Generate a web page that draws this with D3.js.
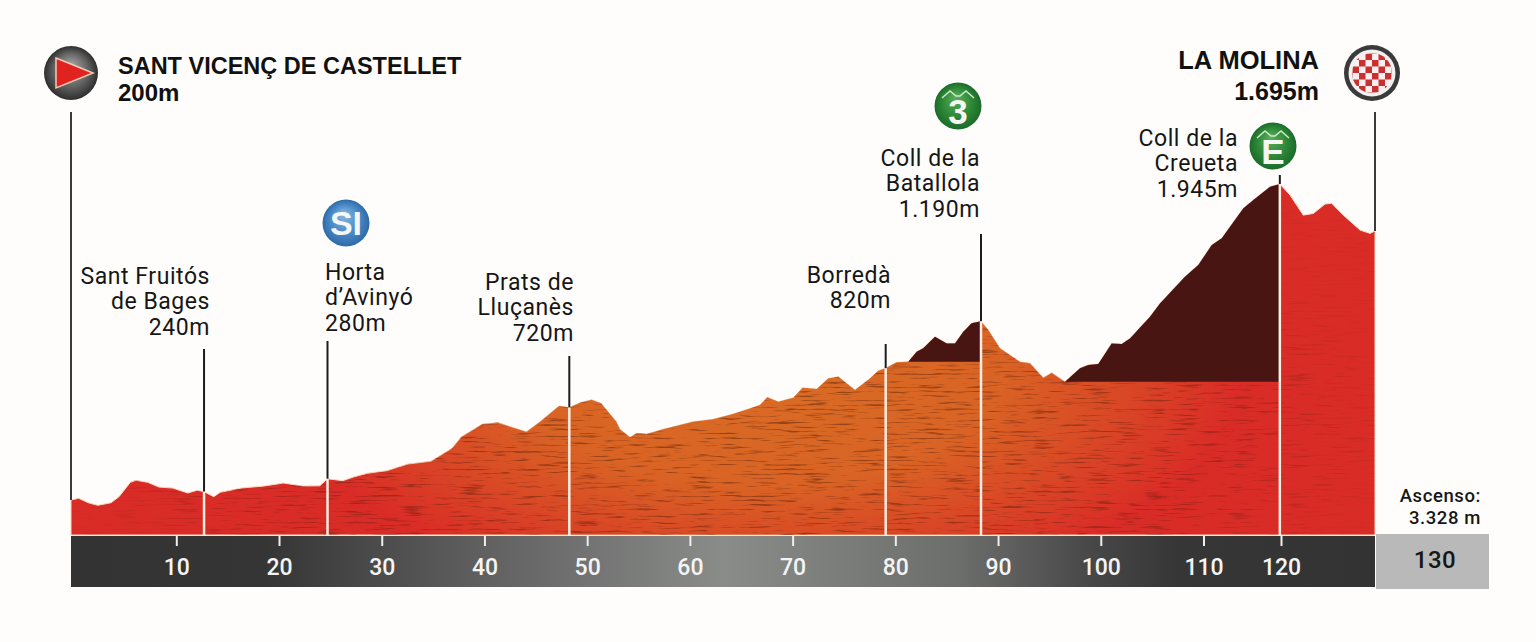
<!DOCTYPE html>
<html>
<head>
<meta charset="utf-8">
<script src="https://cdn.jsdelivr.net/npm/d3@7"></script>
<style>
  body { margin: 0; background: #fefdfb; }
  svg { display: block; }
  .stop { font-family: Roboto, sans-serif; font-size: 23px; letter-spacing: 0.55px; fill: #161616; }
  .title { font-family: "Liberation Sans", sans-serif; font-weight: 700; fill: #111; }
  .axis text { font-family: Roboto, sans-serif; font-size: 23px; font-weight: 500; fill: #f4f4f4; }
  .axis line { stroke: #eee; stroke-width: 2; }
</style>
</head>
<body>
<svg id="chart" width="1536" height="642"></svg>
<script>
const profileKm = [0, 0.73, 1.64, 2.55, 3.8, 4.56, 5.64, 6.17, 7.28, 8.36, 9.64, 11.12, 12.04, 12.7, 13.65, 14.28, 16.33, 18.57, 20.43, 22.3, 23.97, 24.72, 26.21, 27.32, 28.62, 30.49, 32.54, 34.78, 36.82, 37.76, 39.81, 41.3, 44.09, 45.41, 47.26, 48.26, 49.3, 50.42, 51.35, 52.84, 53.19, 54.17, 54.82, 55.8, 57.38, 59.04, 60.3, 62.25, 64.2, 65.85, 66.82, 67.53, 68.61, 70.07, 70.98, 72.34, 73.47, 74.45, 76.07, 77.53, 78.34, 79.06, 80.13, 81.26, 82.08, 82.72, 83.86, 85, 85.81, 86.62, 87.43, 88.34, 89.05, 90.19, 92.14, 93.11, 94.4, 95.22, 96.52, 97.98, 98.78, 99.76, 101.06, 102.04, 102.84, 104.79, 105.76, 108.19, 109.49, 111.06, 112.35, 115.14, 116.43, 118.58, 119.85, 120.96, 122.37, 123.44, 124.68, 125.39, 126.63, 128.4, 129.47, 130];
const profileAlt = [230, 239, 215, 201, 215, 248, 326, 337, 326, 300, 295, 268, 283, 275, 248, 272, 295, 306, 322, 306, 307, 345, 335, 356, 375, 389, 425, 440, 510, 573, 642, 650, 600, 655, 740, 732, 758, 774, 755, 655, 614, 570, 592, 588, 614, 637, 655, 668, 697, 727, 745, 787, 763, 785, 839, 832, 890, 899, 827, 890, 931, 945, 977, 980, 1035, 1053, 1116, 1080, 1080, 1143, 1189, 1200, 1152, 1053, 980, 972, 894, 921, 872, 945, 962, 968, 1080, 1076, 1107, 1224, 1297, 1442, 1505, 1614, 1650, 1813, 1858, 1930, 1945, 1885, 1776, 1785, 1836, 1840, 1776, 1695, 1677, 1690];

const kmTicks = [10, 20, 30, 40, 50, 60, 70, 80, 90, 100, 110, 120];
const totalKm = 130;

const stopKm = [12.7, 24.72, 48.26, 79.06, 88.34, 119.85];
const stopNames = [
  ["Sant Fruitós", "de Bages", "240m"],
  ["Horta", "d’Avinyó", "280m"],
  ["Prats de", "Lluçanès", "720m"],
  ["Borredà", "820m"],
  ["Coll de la", "Batallola", "1.190m"],
  ["Coll de la", "Creueta", "1.945m"]
];
// ramps shaded dark: start km, summit km, altitude of the flat bottom
const climbStart = [81.26, 96.52];
const climbEnd = [88.34, 119.85];
const climbBase = [980, 872];

const startName = "SANT VICENÇ DE CASTELLET";
const startAlt = "200m";
const finishName = "LA MOLINA";
const finishAlt = "1.695m";
const ascentLines = ["Ascenso:", "3.328 m"];

// layout
const baseY = 535, barBottom = 587;
const lineTops = [349, 341, 356, 344, 234, 175];
const labelX = [210, 325, 574, 891, 980, 1238];
const labelY = [284, 280, 290, 283, 166, 146];
const labelAnchor = ["end", "start", "end", "end", "end", "end"];

const s = d3.select("#chart");
const defs = s.append("defs");

const x = d3.scaleLinear().domain([0, 10, 110, 120, 130]).range([71, 176.3, 1203.5, 1281, 1375]);
const y = d3.scaleLinear().domain([40, 1945]).range([baseY, 184]);

const profile = profileKm.map((km, i) => ({ km, alt: profileAlt[i] }));
const area = d3.area().x(d => x(d.km)).y0(baseY).y1(d => y(d.alt));
const areaPath = area(profile);

function altAt(km) {
  const i = d3.bisector(d => d.km).center(profile, km);
  return profile[i].alt;
}

function linGrad(id, stops, attrs) {
  const g = defs.append("linearGradient").attr("id", id).attr("gradientUnits", "userSpaceOnUse");
  Object.keys(attrs).forEach(k => g.attr(k, attrs[k]));
  stops.forEach(st => g.append("stop").attr("offset", st[0]).attr("stop-color", st[1]));
}

function radGrad(id, stops, fx, fy) {
  const g = defs.append("radialGradient").attr("id", id).attr("fx", fx).attr("fy", fy);
  stops.forEach(st => g.append("stop").attr("offset", st[0]).attr("stop-color", st[1]));
}

linGrad("barGrad", [[0, "#333"], [0.15, "#353535"], [0.3, "#5c5c5c"], [0.5, "#8a8c8a"], [0.68, "#6c6e6c"], [0.78, "#484848"], [0.85, "#363636"], [1, "#333"]], { x1: 71, x2: 1375, y1: 0, y2: 0 });
radGrad("startGrad", [[0, "#a8a8a8"], [0.6, "#666"], [1, "#2e2e2e"]], "50%", "35%");
radGrad("greenGrad", [[0, "#5cae5c"], [0.6, "#2f8a38"], [1, "#1b6b2a"]], "45%", "30%");
radGrad("blueGrad", [[0, "#8ab8e0"], [0.6, "#4a8bc8"], [1, "#2f6aa8"]], "45%", "30%");

// orange glow over the red base, strongest around the middle of the stage
const glow = defs.append("radialGradient").attr("id", "glow").attr("gradientUnits", "userSpaceOnUse")
  .attr("cx", 0).attr("cy", 0).attr("r", 1)
  .attr("gradientTransform", "translate(760,370) scale(480,230)");
[[0, 1], [0.5, 0.85], [0.8, 0.35], [1, 0]].forEach(st => {
  glow.append("stop").attr("offset", st[0]).attr("stop-color", "#d96d24").attr("stop-opacity", st[1]);
});

// the dirt only shows where the profile goes orange
const grainMask = defs.append("radialGradient").attr("id", "grainFade").attr("gradientUnits", "userSpaceOnUse")
  .attr("cx", 0).attr("cy", 0).attr("r", 1)
  .attr("gradientTransform", "translate(720,420) scale(680,260)");
[[0, "#fff"], [0.7, "#bbb"], [1, "#222"]].forEach(st => {
  grainMask.append("stop").attr("offset", st[0]).attr("stop-color", st[1]);
});
defs.append("mask").attr("id", "grainMask").attr("maskUnits", "userSpaceOnUse")
  .attr("x", 0).attr("y", 0).attr("width", 1536).attr("height", 642)
  .append("rect").attr("width", 1536).attr("height", 642).attr("fill", "url(#grainFade)");

defs.append("clipPath").attr("id", "profileClip").append("path").attr("d", areaPath);

// streaky dirt texture
const grain = defs.append("filter").attr("id", "grain").attr("x", 0).attr("y", 0).attr("width", 1).attr("height", 1)
  .attr("color-interpolation-filters", "sRGB");
grain.append("feTurbulence").attr("type", "fractalNoise").attr("baseFrequency", "0.035 0.45").attr("numOctaves", 3).attr("seed", 11);
grain.append("feColorMatrix").attr("values", "0 0 0 0 0.3  0 0 0 0 0.1  0 0 0 0 0.03  4.5 0 0 0 -2.55");

s.append("path").attr("d", areaPath).attr("fill", "#da2c27")
  .attr("stroke", "#f8d8c0").attr("stroke-width", 1);
s.append("path").attr("d", areaPath).attr("fill", "url(#glow)");
s.append("g").attr("clip-path", "url(#profileClip)").attr("mask", "url(#grainMask)")
  .append("rect").attr("x", 71).attr("y", 180).attr("width", 1304).attr("height", baseY - 180)
  .attr("filter", "url(#grain)").attr("opacity", 0.5);

climbStart.forEach((from, i) => {
  const pts = profile.filter(d => d.km >= from && d.km <= climbEnd[i]);
  const climbArea = d3.area().x(d => x(d.km)).y0(y(climbBase[i])).y1(d => y(d.alt));
  s.append("path").attr("d", climbArea(pts)).attr("fill", "#481512");
});

// km bar
s.append("rect").attr("x", 71).attr("y", baseY + 1).attr("width", 1304).attr("height", barBottom - baseY - 1).attr("fill", "url(#barGrad)");

const axis = d3.axisBottom(x).tickValues(kmTicks).tickFormat(d3.format("d")).tickSize(10).tickPadding(7);
const axisG = s.append("g").attr("class", "axis").attr("transform", `translate(0,${baseY + 1})`).call(axis);
axisG.select(".domain").remove();
axisG.selectAll("text").attr("dy", "0.95em");

// total distance box
s.append("rect").attr("x", 1376).attr("y", 534).attr("width", 113).attr("height", 55).attr("fill", "#b9b9b9");
s.append("text").attr("class", "stop").attr("x", 1435).attr("y", 568).attr("text-anchor", "middle")
  .style("font-size", "24px").style("font-weight", 500).text(totalKm);
ascentLines.forEach((t, i) => {
  s.append("text").attr("class", "stop").attr("x", 1481).attr("y", 502 + i * 22).attr("text-anchor", "end")
    .style("font-size", "18.5px").style("font-weight", 500).style("letter-spacing", "0.6px").text(t);
});

// start and finish lines
[0, totalKm].forEach(km => {
  s.append("line").attr("x1", x(km)).attr("x2", x(km)).attr("y1", 112).attr("y2", y(altAt(km)))
    .attr("stroke", "#3a3a3a").attr("stroke-width", 2);
});

// stops
stopKm.forEach((km, i) => {
  const px = x(km), py = y(altAt(km));
  s.append("line").attr("x1", px).attr("x2", px).attr("y1", lineTops[i]).attr("y2", py)
    .attr("stroke", "#1c1c1c").attr("stroke-width", 2);
  s.append("line").attr("x1", px).attr("x2", px).attr("y1", py).attr("y2", baseY)
    .attr("stroke", "#fdeee2").attr("stroke-width", 2.5);
  stopNames[i].forEach((t, j) => {
    s.append("text").attr("class", "stop").attr("x", labelX[i]).attr("y", labelY[i] + j * 25.3)
      .attr("text-anchor", labelAnchor[i]).text(t);
  });
});

// header texts
s.append("text").attr("class", "title").attr("x", 118).attr("y", 74).style("font-size", "23.5px").text(startName);
s.append("text").attr("class", "title").attr("x", 118).attr("y", 101).style("font-size", "24px").text(startAlt);
s.append("text").attr("class", "title").attr("x", 1319).attr("y", 69).attr("text-anchor", "end").style("font-size", "25.5px").text(finishName);
s.append("text").attr("class", "title").attr("x", 1319).attr("y", 100).attr("text-anchor", "end").style("font-size", "25px").text(finishAlt);

// start icon
const startIcon = s.append("g").attr("transform", "translate(71,73)");
startIcon.append("circle").attr("r", 27).attr("fill", "url(#startGrad)");
startIcon.append("path").attr("d", "M-15,-15 L22,0 L-15,15 Z").attr("fill", "#e0231f")
  .attr("stroke", "#f3c9b8").attr("stroke-width", 1.5);

// finish icon
const finishIcon = s.append("g").attr("transform", "translate(1372,73)");
finishIcon.append("circle").attr("r", 28).attr("fill", "#3a3a3a");
finishIcon.append("circle").attr("r", 23.5).attr("fill", "#f0f0f0");
defs.append("clipPath").attr("id", "checkClip").append("circle").attr("r", 20);
const check = finishIcon.append("g").attr("clip-path", "url(#checkClip)");
check.append("circle").attr("r", 20).attr("fill", "#fbeeee");
d3.range(-4, 4).forEach(a => d3.range(-4, 4).forEach(b => {
  if ((a + b + 8) % 2 === 0) {
    check.append("rect").attr("x", a * 6.5).attr("y", b * 6.5).attr("width", 6.5).attr("height", 6.5).attr("fill", "#c8312f");
  }
}));

// round badges above the stops
function badge(cx, cy, fill, label, peaks) {
  const g = s.append("g").attr("transform", `translate(${cx},${cy})`);
  g.append("circle").attr("r", 23.5).attr("fill", fill);
  if (peaks) {
    g.append("path").attr("d", "M-16,-8 L-8,-15 L-2,-10 L2,-10 L8,-15 L16,-8")
      .attr("fill", "none").attr("stroke", "#cfe8cf").attr("stroke-width", 1.5);
  }
  g.append("text").attr("y", peaks ? 18 : 12).attr("text-anchor", "middle")
    .style("font-family", "'Liberation Sans', sans-serif").style("font-weight", 700)
    .style("font-size", peaks ? "35px" : "34px").attr("fill", "#f6f6f6").text(label);
}
badge(346, 223, "url(#blueGrad)", "SI", false);
badge(958, 106, "url(#greenGrad)", "3", true);
badge(1273, 146, "url(#greenGrad)", "E", true);
</script>
</body>
</html>
